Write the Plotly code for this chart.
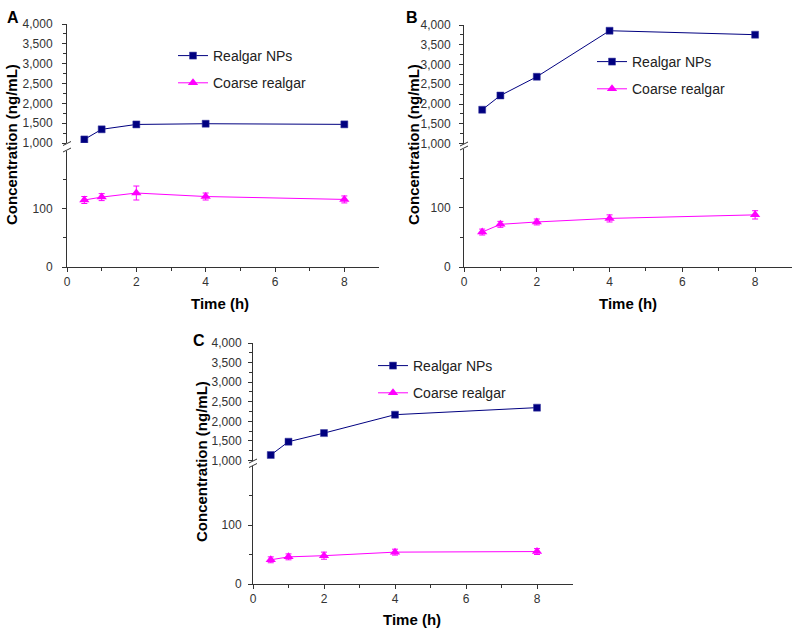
import plotly.graph_objects as go

W, H = 793, 631

# ---------------- data ----------------
time_h = [0.5, 1, 2, 4, 8]

a_nps = [1090, 1345, 1468, 1486, 1470]
a_coarse = [115, 120, 127, 121, 116]
a_coarse_err = [6, 6, 12, 6, 6]

b_nps = [1855, 2215, 2690, 3855, 3755]
b_coarse = [59, 72, 76, 82, 88]
b_coarse_err = [5, 5, 5, 6, 7]

c_nps = [1140, 1480, 1700, 2170, 2350]
c_coarse = [41, 46, 48, 54, 55]
c_coarse_err = [5, 5, 6, 5, 5]

series_names = ["Realgar NPs", "Coarse realgar"]
panel_labels = ["A", "B", "C"]
x_ticks = [0, 2, 4, 6, 8]
upper_ticks = [1000, 1500, 2000, 2500, 3000, 3500, 4000]
lower_ticks = [0, 100]

data = [
    (a_nps, a_coarse, a_coarse_err),
    (b_nps, b_coarse, b_coarse_err),
    (c_nps, c_coarse, c_coarse_err),
]

# ---------------- geometry (pixels) ----------------
geo = [
    dict(left=67, right=379, y0=267, y200=150.5, y1000=143, y4000=24,
         letter=(6, 17), xt=(220, 303), yt=(11, 145), leg=(215, 53), sto=7),
    dict(left=464, right=791.5, y0=267, y200=148.5, y1000=143.5, y4000=25,
         letter=(405, 17), xt=(628, 303), yt=(413, 145), leg=(634, 59), sto=6),
    dict(left=253, right=572.5, y0=584, y200=466, y1000=460.5, y4000=343,
         letter=(192, 340), xt=(412, 619), yt=(202, 462), leg=(415, 363), sto=4),
]

px = lambda x: x / W
py = lambda y: 1 - y / H

NAVY = "#000080"
MAG = "#FF00FF"
AX = "#333333"
FONT = "Liberation Sans, Arial, sans-serif"

fig = go.Figure()
layout = dict(
    template="none",
    width=W, height=H,
    margin=dict(l=0, r=0, t=0, b=0, pad=0, autoexpand=False),
    paper_bgcolor="white", plot_bgcolor="white",
    font=dict(family=FONT, color="#222", size=12),
    showlegend=True,
)
annotations = []
shapes = []

for i, (g, (nps, coarse, err)) in enumerate(zip(geo, data)):
    xn = "x" if i == 0 else f"x{i+1}"
    yl = "y" if i == 0 else f"y{2*i+1}"
    yu = f"y{2*i+2}"
    xkey = "xaxis" if i == 0 else f"xaxis{i+1}"
    ylkey = "yaxis" if i == 0 else f"yaxis{2*i+1}"
    yukey = f"yaxis{2*i+2}"
    legkey = "legend" if i == 0 else f"legend{i+1}"

    fig.add_trace(go.Scatter(
        x=time_h, y=nps, xaxis=xn, yaxis=yu, mode="lines+markers",
        name=series_names[0], legend=legkey, legendgroup=f"n{i}",
        line=dict(color=NAVY, width=1),
        marker=dict(symbol="square", size=7, color=NAVY,
                    line=dict(color="#3a3aa0", width=0.5)),
    ))
    fig.add_trace(go.Scatter(
        x=time_h, y=coarse, xaxis=xn, yaxis=yl, mode="lines+markers",
        name=series_names[1], legend=legkey, legendgroup=f"c{i}",
        line=dict(color=MAG, width=1),
        marker=dict(symbol="triangle-up", size=9, color=MAG),
        error_y=dict(type="data", array=err, color=MAG, thickness=1, width=3),
    ))

    common_ax = dict(showline=True, linecolor=AX, linewidth=1, showgrid=False,
                     zeroline=False, ticks="outside", tickcolor=AX,
                     automargin=False,
                     tickfont=dict(size=12, color="#333", family=FONT))
    layout[xkey] = dict(
        common_ax, domain=[px(g["left"]), px(g["right"])], range=[0, 9],
        anchor=yl, tickvals=x_ticks, ticklen=4,
        minor=dict(tickvals=[1, 3, 5, 7], ticks="outside", ticklen=3, tickcolor=AX),
    )
    layout[ylkey] = dict(
        common_ax, domain=[py(g["y0"]), py(g["y200"])], range=[0, 200],
        anchor=xn, tickvals=lower_ticks, ticklen=4, ticklabelstandoff=g["sto"],
        minor=dict(tickvals=[50, 150], ticks="outside", ticklen=3, tickcolor=AX),
    )
    layout[yukey] = dict(
        common_ax, domain=[py(g["y1000"]), py(g["y4000"])], range=[1000, 4000],
        anchor=xn, tickvals=upper_ticks, tickformat=",", ticklen=4,
        ticklabelstandoff=g["sto"],
        minor=dict(dtick=250, ticks="outside", ticklen=3, tickcolor=AX),
    )
    layout[legkey] = dict(
        x=px(g["leg"][0] - 42), y=py(g["leg"][1] - 13),
        xanchor="left", yanchor="top", bgcolor="rgba(0,0,0,0)",
        borderwidth=0,
        font=dict(size=14, color="#222", family=FONT),
        itemwidth=30, tracegroupgap=6,
    )

    # panel letter
    annotations.append(dict(
        x=px(g["letter"][0]), y=py(g["letter"][1]), xref="paper", yref="paper",
        text="<b>%s</b>" % panel_labels[i], showarrow=False, borderpad=0,
        xanchor="left", yanchor="middle", font=dict(size=16, color="black")))
    # axis titles
    annotations.append(dict(
        x=px(g["xt"][0]), y=py(g["xt"][1]), xref="paper", yref="paper",
        text="<b>Time (h)</b>", showarrow=False, xanchor="center",
        yanchor="middle", font=dict(size=15, color="black")))
    annotations.append(dict(
        x=px(g["yt"][0]), y=py(g["yt"][1]), xref="paper", yref="paper",
        text="<b>Concentration (ng/mL)</b>", showarrow=False, textangle=-90,
        xanchor="center", yanchor="middle", font=dict(size=15, color="black")))

    # axis-break marks
    for yc in (g["y1000"] + 0.5, g["y200"] - 0.5):
        shapes.append(dict(type="line", xref="paper", yref="paper",
                           x0=px(g["left"] - 4), y0=py(yc + 2),
                           x1=px(g["left"] + 4), y1=py(yc - 2),
                           line=dict(color=AX, width=1)))

layout["annotations"] = annotations
layout["shapes"] = shapes
fig.update_layout(**layout)
fig.write_html("out.html", config={"displayModeBar": False},
               post_script="document.body.style.margin='0';document.body.style.overflow='hidden';")
